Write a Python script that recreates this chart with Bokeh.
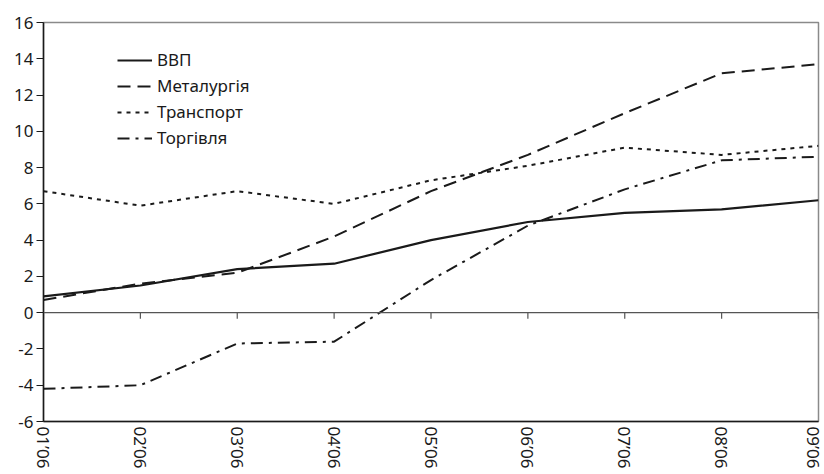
from bokeh.plotting import figure
from bokeh.models import Range1d, FixedTicker, Legend, LegendItem, Span
from bokeh.embed import file_html
from bokeh.resources import INLINE

# ---- data ----
months = ["01’06", "02’06", "03’06", "04’06", "05’06", "06’06", "07’06", "08’06", "09’06"]
gdp = [0.9, 1.5, 2.4, 2.7, 4.0, 5.0, 5.5, 5.7, 6.2]
metallurgy = [0.7, 1.6, 2.2, 4.2, 6.7, 8.7, 11.0, 13.2, 13.7]
transport = [6.7, 5.9, 6.7, 6.0, 7.3, 8.1, 9.1, 8.7, 9.2]
trade = [-4.2, -4.0, -1.7, -1.6, 1.8, 4.8, 6.8, 8.4, 8.6]
series_names = ["ВВП", "Металургія", "Транспорт", "Торгівля"]
yticks = [-6, -4, -2, 0, 2, 4, 6, 8, 10, 12, 14, 16]

x = list(range(len(months)))
FONT = "Noto Sans"
INK = "#1a1a1a"
W, H = 824, 474
BL, BR, BT, BB = 43, 6, 22, 53

p = figure(width=W, height=H, output_backend="svg", toolbar_location=None,
           x_range=Range1d(x[0], x[-1]), y_range=Range1d(yticks[0], yticks[-1]),
           min_border_left=BL, min_border_right=BR, min_border_top=BT, min_border_bottom=BB)
p.grid.visible = False
p.background_fill_color = "white"
p.border_fill_color = "white"
p.outline_line_color = "#8a8a8a"
p.outline_line_width = 1.5

# y axis
yax = p.yaxis[0]
yax.ticker = FixedTicker(ticks=yticks)
yax.major_label_overrides = {t: str(t) for t in yticks}
yax.major_tick_out = 7
yax.major_tick_in = 0
yax.minor_tick_line_color = None
yax.axis_line_color = INK
yax.axis_line_width = 1.5
yax.major_tick_line_color = INK
yax.major_label_text_font = FONT
yax.major_label_text_font_size = "17px"
yax.major_label_text_color = INK
yax.major_label_standoff = 3

# bottom x axis (labels only)
xax = p.xaxis[0]
xax.ticker = FixedTicker(ticks=x)
xax.major_label_overrides = {i: m for i, m in zip(x, months)}
xax.major_label_orientation = "vertical"
xax.major_tick_out = 0
xax.major_tick_in = 0
xax.minor_tick_line_color = None
xax.axis_line_color = INK
xax.axis_line_width = 1.5
xax.major_label_text_font = FONT
xax.major_label_text_font_size = "17px"
xax.major_label_text_color = INK
xax.major_label_standoff = 5

# zero line with downward category ticks
p.add_layout(Span(location=0, dimension="width", line_color="#555555", line_width=1.2))
frame_h = H - BT - BB
tick_len = 6 * (yticks[-1] - yticks[0]) / frame_h
p.segment(x0=x, y0=[0] * len(x), x1=x, y1=[-tick_len] * len(x),
          line_color="#555555", line_width=1.2)

styles = [
    dict(line_dash="solid", line_width=2.2),
    dict(line_dash="13 7", line_width=2.0),
    dict(line_dash="4 5", line_width=2.0),
    dict(line_dash="12 6 3 6", line_width=2.0),
]
renderers = []
for ys, st in zip([gdp, metallurgy, transport, trade], styles):
    r = p.line(x, ys, line_color=INK, **st)
    renderers.append(r)

legend = Legend(items=[LegendItem(label=n, renderers=[r]) for n, r in zip(series_names, renderers)],
                location=(74, 272), padding=0, margin=0, spacing=3,
                glyph_width=35, glyph_height=20, label_height=20, label_standoff=5,
                border_line_color=None, background_fill_alpha=0,
                label_text_font=FONT, label_text_font_size="17px", label_text_color=INK)
p.add_layout(legend, "center")

open("out.html", "w").write(file_html(p, INLINE))
